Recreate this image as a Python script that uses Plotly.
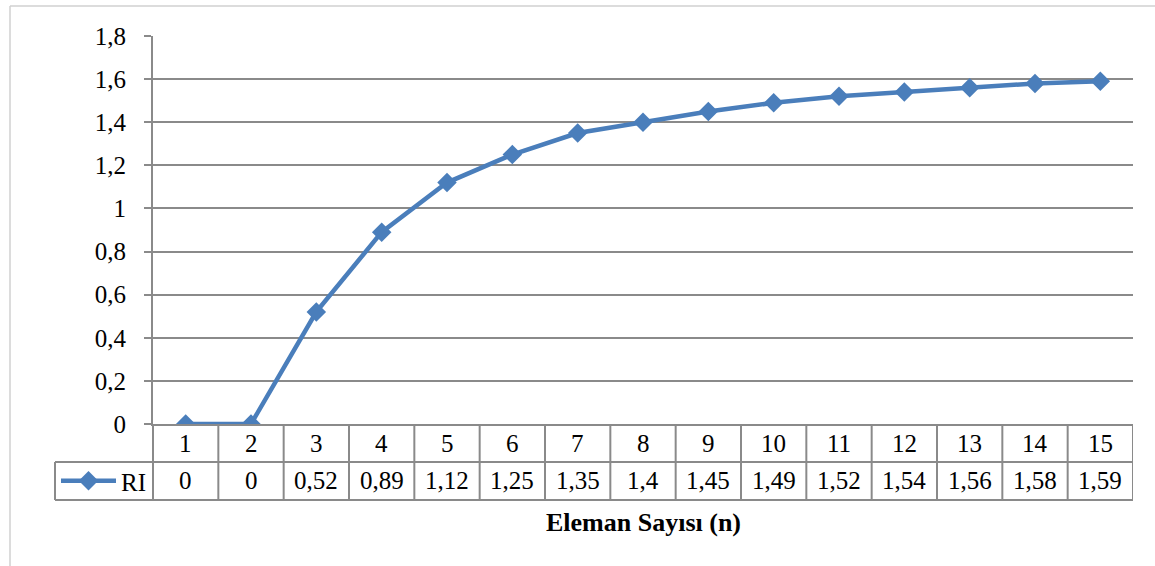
import plotly.graph_objects as go

categories = list(range(1, 16))
ri_values = [0, 0, 0.52, 0.89, 1.12, 1.25, 1.35, 1.4, 1.45, 1.49, 1.52, 1.54, 1.56, 1.58, 1.59]
series_name = "RI"
x_title = "Eleman Sayısı (n)"
y_ticks = [0, 0.2, 0.4, 0.6, 0.8, 1.0, 1.2, 1.4, 1.6, 1.8]

W, H = 1155, 566
L, R, T, B = 153, 1133, 36, 424  # plot area in pixels
FONT = "Liberation Serif, Times New Roman, serif"
FS = 25
GRID = "#8a8a8a"
BLUE = "#4a7ebb"


def pxx(p):
    return (p - L) / (R - L)


def pxy(p):
    return (B - p) / (B - T)


def fmt(v):
    return f"{v:g}".replace(".", ",")


fig = go.Figure()
fig.add_trace(go.Scatter(
    x=categories, y=ri_values, name=series_name,
    mode="lines+markers",
    line=dict(color=BLUE, width=4.5),
    marker=dict(symbol="diamond", size=15, color=BLUE),
    showlegend=True,
))

row1_y = pxy(443)
row2_y = pxy(481)
row1_bot = pxy(462)
row2_bot = pxy(500)

annotations = []
for c, v in zip(categories, ri_values):
    annotations.append(dict(x=c, y=row1_y, xref="x", yref="paper", text=str(c),
                            showarrow=False, yanchor="middle",
                            font=dict(family=FONT, size=FS, color="black")))
    annotations.append(dict(x=c, y=row2_y, xref="x", yref="paper", text=fmt(v),
                            showarrow=False, yanchor="middle",
                            font=dict(family=FONT, size=FS, color="black")))
annotations.append(dict(x=0.5, y=pxy(522), xref="paper", yref="paper", text="<b>" + x_title + "</b>",
                        showarrow=False, yanchor="middle",
                        font=dict(family=FONT, size=26, color="black")))

shapes = []
lw = 2
# horizontal table lines
for yy in (row1_bot, row2_bot):
    shapes.append(dict(type="line", xref="paper", yref="paper", x0=pxx(55), x1=1, y0=yy, y1=yy,
                       line=dict(color=GRID, width=lw)))
# vertical separators between categories and right edge
for c in categories:
    shapes.append(dict(type="line", xref="x", yref="paper", x0=c + 0.5, x1=c + 0.5, y0=0, y1=row2_bot,
                       line=dict(color=GRID, width=lw)))
# y-axis line continuing through table
shapes.append(dict(type="line", xref="paper", yref="paper", x0=0, x1=0, y0=0, y1=row2_bot,
                   line=dict(color=GRID, width=lw)))
# legend cell left edge
shapes.append(dict(type="line", xref="paper", yref="paper", x0=pxx(55), x1=pxx(55), y0=row1_bot, y1=row2_bot,
                   line=dict(color=GRID, width=lw)))
# outer chart border (light)
shapes.append(dict(type="line", xref="paper", yref="paper", x0=pxx(10), x1=pxx(W + 5), y0=pxy(6), y1=pxy(6),
                   line=dict(color="#d0d0d0", width=1.5)))
shapes.append(dict(type="line", xref="paper", yref="paper", x0=pxx(10), x1=pxx(10), y0=pxy(6), y1=pxy(H + 5),
                   line=dict(color="#d0d0d0", width=1.5)))

fig.update_layout(
    width=W, height=H,
    margin=dict(l=L, r=W - R, t=T, b=H - B, autoexpand=False),
    paper_bgcolor="white", plot_bgcolor="white",
    separators=", ",
    font=dict(family=FONT, size=FS, color="black"),
    showlegend=True,
    legend=dict(x=pxx(56), y=row2_y, xanchor="left", yanchor="middle",
                bgcolor="rgba(0,0,0,0)", borderwidth=0,
                font=dict(family=FONT, size=FS, color="black"),
                itemwidth=55, tracegroupgap=0),
    annotations=annotations,
    shapes=shapes,
)
fig.update_xaxes(range=[0.5, 15.5], showgrid=False, showticklabels=False, ticks="",
                 showline=True, linecolor=GRID, linewidth=lw, zeroline=False, fixedrange=True)
fig.update_yaxes(range=[0, 1.8], tickvals=y_ticks, showgrid=True, gridcolor=GRID, gridwidth=lw,
                 ticks="outside", ticklen=7, tickcolor=GRID, tickwidth=lw,
                 showline=True, linecolor=GRID, linewidth=lw, zeroline=False,
                 ticklabelstandoff=13, tickfont=dict(family=FONT, size=FS, color="black"),
                 fixedrange=True)

fig.write_html(
    "out.html",
    config={"displayModeBar": False, "staticPlot": True},
    post_script="document.body.style.margin='0';document.body.style.overflow='hidden';",
)
